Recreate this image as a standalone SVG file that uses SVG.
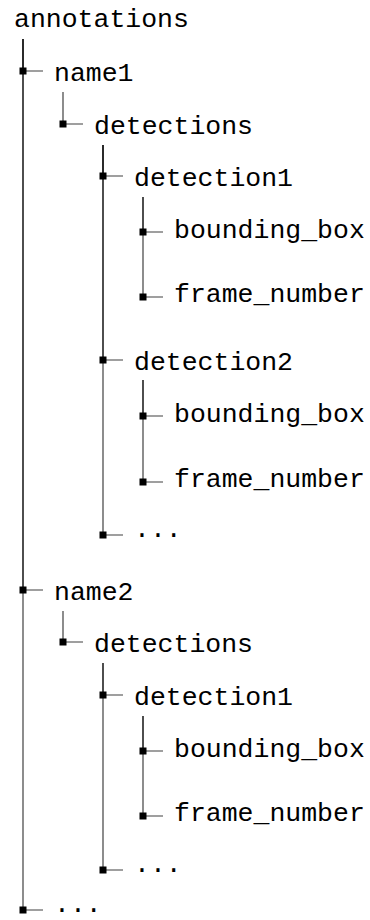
<svg xmlns="http://www.w3.org/2000/svg" width="370" height="920" viewBox="0 0 370 920">
<style>
text{font-family:"Liberation Mono","DejaVu Sans Mono",monospace;font-size:26.5px;fill:#000}
.e{fill:none;stroke:#000;stroke-opacity:0.75;stroke-width:1.2;marker-mid:url(#sq)}
</style>
<defs>
<marker id="sq" markerUnits="userSpaceOnUse" markerWidth="8" markerHeight="8" refX="3.5" refY="3.5" orient="0" overflow="visible">
<rect x="0" y="0" width="7" height="7" fill="#000"/>
</marker>
</defs>
<rect width="370" height="920" fill="#fff"/>
<g id="connectors">
<path class="e" d="M23,39 V71 H43"/>
<path class="e" d="M23,39 V590 H43"/>
<path class="e" d="M23,39 V910 H43"/>
<path class="e" d="M63,92 V124 H83"/>
<path class="e" d="M103,145 V176 H123"/>
<path class="e" d="M103,145 V360 H123"/>
<path class="e" d="M103,145 V535 H123"/>
<path class="e" d="M143,197 V232 H163"/>
<path class="e" d="M143,197 V297 H163"/>
<path class="e" d="M143,380 V416 H163"/>
<path class="e" d="M143,380 V482 H163"/>
<path class="e" d="M63,611 V642 H83"/>
<path class="e" d="M103,663 V695 H123"/>
<path class="e" d="M103,663 V870 H123"/>
<path class="e" d="M143,716 V751 H163"/>
<path class="e" d="M143,716 V816 H163"/>
</g>
<g id="annotations"><text x="14" y="27">annotations</text></g>
<g id="name1"><text x="54" y="81">name1</text></g>
<g id="detections1"><text x="94" y="134">detections</text></g>
<g id="n1_detection1"><text x="134" y="186">detection1</text></g>
<g id="n1_d1_bounding_box"><text x="174" y="237.5">bounding_box</text></g>
<g id="n1_d1_frame_number"><text x="174" y="302">frame_number</text></g>
<g id="n1_detection2"><text x="134" y="370">detection2</text></g>
<g id="n1_d2_bounding_box"><text x="174" y="421.5">bounding_box</text></g>
<g id="n1_d2_frame_number"><text x="174" y="487">frame_number</text></g>
<g id="n1_dots"><text x="134" y="537">...</text></g>
<g id="name2"><text x="54" y="600">name2</text></g>
<g id="detections2"><text x="94" y="652">detections</text></g>
<g id="n2_detection1"><text x="134" y="705">detection1</text></g>
<g id="n2_d1_bounding_box"><text x="174" y="756.5">bounding_box</text></g>
<g id="n2_d1_frame_number"><text x="174" y="821">frame_number</text></g>
<g id="n2_dots"><text x="134" y="872">...</text></g>
<g id="root_dots"><text x="54" y="911.5">...</text></g>
</svg>
